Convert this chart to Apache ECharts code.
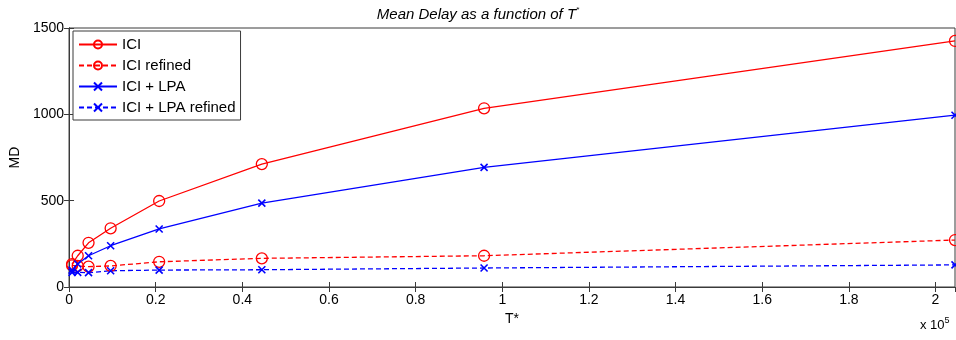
<!DOCTYPE html>
<html>
<head>
<meta charset="utf-8">
<script src="https://cdn.jsdelivr.net/npm/echarts@6/dist/echarts.min.js"></script>
<style>
  html, body { margin: 0; padding: 0; background: #fff; }
  #chart { width: 956px; height: 340px; }
</style>
</head>
<body>
<div id="chart"></div>
<script>
const tStar = [700, 2000, 4500, 9600, 20800, 44500, 95800, 204500]
const ici = [133, 181, 256, 340, 498, 712, 1035, 1425]
const iciRefined = [125, 122, 118, 122, 146, 166, 181, 272]
const iciLpa = [98, 133, 181, 239, 336, 486, 693, 995]
const iciLpaRefined = [85, 85, 83, 94, 98, 100, 110, 128]
const xTicks = [0, 0.2, 0.4, 0.6, 0.8, 1, 1.2, 1.4, 1.6, 1.8, 2]
const yTicks = [0, 500, 1000, 1500]

const font = 'Liberation Sans, Arial, sans-serif'
const crossPath = 'path://M0,0L10,10M10,0L0,10'

const pairs = (ys) => tStar.map((t, i) => [t, ys[i]])

const mk = (name, ys, color, dashed, cross) => ({
  name,
  type: 'line',
  data: pairs(ys),
  symbol: cross ? crossPath : 'circle',
  symbolSize: cross ? 7 : 11,
  lineStyle: { color, width: 1.3, type: dashed ? [5, 3] : 'solid' },
  itemStyle: { color: cross ? color : 'rgba(0,0,0,0)', borderColor: color, borderWidth: cross ? 1.6 : 1.3 },
  emphasis: { disabled: true },
  animation: false,
  z: 3
})

const chart = echarts.init(document.getElementById('chart'))

const axisCommon = {
  axisLine: { show: true, lineStyle: { color: '#3a3a3a', width: 1 } },
  axisTick: { show: true, inside: true, length: 5, lineStyle: { color: '#3a3a3a' } },
  splitLine: { show: false }
}

chart.setOption({
  animation: false,
  title: {
    text: 'Mean Delay as a function of T{sup|*}',
    left: 'center',
    top: 1,
    textStyle: {
      fontFamily: font, fontSize: 15, fontWeight: 'normal', fontStyle: 'italic', color: '#000',
      rich: { sup: { fontSize: 8, fontStyle: 'italic', verticalAlign: 'top', padding: [0, 0, 9, 0] } }
    }
  },
  grid: { left: 68, right: 1, top: 28, bottom: 53, show: true, borderColor: '#3a3a3a', borderWidth: 1 },
  legend: {
    orient: 'vertical',
    left: 73,
    top: 31,
    itemWidth: 38,
    itemHeight: 10,
    itemGap: 6,
    padding: [6, 5, 5, 5],
    borderColor: '#3a3a3a',
    borderWidth: 1,
    backgroundColor: '#fff',
    textStyle: { fontFamily: font, fontSize: 15, color: '#000', padding: [0, 0, 0, 0] },
    data: ['ICI', 'ICI refined', 'ICI + LPA', 'ICI + LPA refined']
  },
  xAxis: [
    Object.assign({
      type: 'value', min: 0, max: 204500, interval: 20000,
      name: 'T*', nameLocation: 'middle', nameGap: 24,
      nameTextStyle: { fontFamily: font, fontSize: 14, color: '#000' },
      axisLabel: {
        fontFamily: font, fontSize: 14, color: '#000', margin: 6, showMaxLabel: false,
        formatter: (v) => {
          const s = +(v / 1e5).toFixed(1)
          return xTicks.includes(s) ? String(s) : ''
        }
      }
    }, axisCommon),
    Object.assign({
      type: 'value', min: 0, max: 204500, interval: 20000, position: 'top',
      axisLabel: { show: false }
    }, axisCommon)
  ],
  yAxis: [
    Object.assign({
      type: 'value', min: 0, max: 1500, interval: 500,
      name: 'MD', nameLocation: 'middle', nameGap: 44, nameRotate: 90,
      nameTextStyle: { fontFamily: font, fontSize: 14, color: '#000' },
      axisLabel: {
        fontFamily: font, fontSize: 14, color: '#000', margin: 5,
        formatter: (v) => yTicks.includes(v) ? String(v) : ''
      }
    }, axisCommon),
    Object.assign({
      type: 'value', min: 0, max: 1500, interval: 500, position: 'right',
      axisLabel: { show: false }
    }, axisCommon)
  ],
  graphic: [{
    type: 'text',
    left: 920,
    top: 316,
    style: {
      text: 'x 10{sup|5}',
      fontFamily: font, fontSize: 13, fill: '#000',
      rich: { sup: { fontSize: 9, verticalAlign: 'top', padding: [0, 0, 9, 0] } }
    }
  }],
  series: [
    mk('ICI', ici, '#ff0000', false, false),
    mk('ICI refined', iciRefined, '#ff0000', true, false),
    mk('ICI + LPA', iciLpa, '#0000ff', false, true),
    mk('ICI + LPA refined', iciLpaRefined, '#0000ff', true, true)
  ]
})
</script>
</body>
</html>
